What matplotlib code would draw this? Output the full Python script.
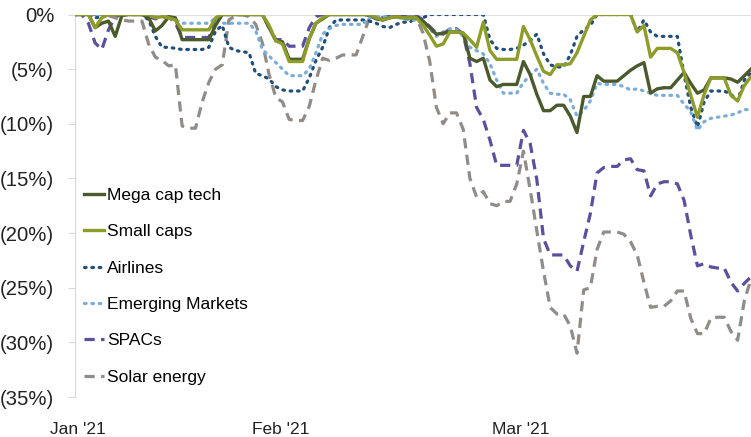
import matplotlib
matplotlib.use("Agg")
import matplotlib.pyplot as plt
import numpy as np

plt.rcParams['font.family'] = ['Liberation Sans', 'DejaVu Sans']

# drawdown from peak, % (one value per calendar day from Jan 1)
mega_cap_tech = [
    0, 0, 0, -1.2, -0.8, -0.6, -2.0, -0.1, 0, 0,
    0, -0.3, -1.5, -1.0, -0.2, -0.3, -2.3, -2.3, -2.3, -2.3,
    -2.3, -1.0, 0, 0, 0, 0, 0, 0, 0, -1.2,
    -2.4, -2.5, -4.1, -4.1, -4.1, -2.2, -0.8, -0.4, 0, 0,
    0, 0, 0, 0, 0, -0.4, -0.5, -0.3, -0.2, -0.3,
    -0.3, -0.3, -0.6, -1.2, -1.8, -1.7, -1.6, -1.6, -1.7, -4.0,
    -4.3, -4.0, -6.0, -6.6, -6.4, -6.4, -6.4, -4.3, -5.5, -7.3,
    -8.8, -8.8, -8.3, -8.3, -9.3, -10.8, -7.5, -7.5, -5.6, -6.1,
    -6.1, -6.1, -5.6, -5.1, -4.7, -4.4, -7.2, -6.8, -6.7, -6.7,
    -6.0, -5.3, -6.3, -7.2, -6.9, -5.8, -5.8, -5.8, -5.9, -6.2,
    -5.6, -5.0,
]
small_caps = [
    0, 0, 0, -1.2, -0.3, 0, 0, 0, 0, 0,
    0, 0, -0.3, -0.2, -0.3, -0.5, -1.4, -1.4, -1.4, -1.4,
    -1.4, -0.3, 0, 0, 0, 0, 0, 0, 0, -1.0,
    -2.4, -2.7, -4.3, -4.3, -4.3, -2.2, -0.8, -0.3, 0, 0,
    0, 0, 0, 0, 0, -0.3, -0.5, -0.3, -0.2, -0.3,
    -0.3, -0.3, -1.0, -1.9, -2.9, -2.7, -1.6, -1.6, -1.7, -2.3,
    -3.0, -0.7, -3.3, -4.1, -4.1, -4.1, -4.1, -1.1, -2.3, -3.8,
    -5.2, -5.5, -4.6, -4.6, -4.5, -3.5, -2.0, -0.5, 0, 0,
    0, 0, 0, 0, -1.6, -1.0, -3.9, -3.1, -3.1, -3.1,
    -3.5, -5.3, -7.4, -9.4, -7.3, -5.8, -5.8, -5.8, -7.4, -7.9,
    -6.5, -5.7,
]
airlines = [
    0, 0, 0, -0.3, -0.2, 0, 0, 0, 0, 0,
    0, -0.5, -2.0, -3.0, -3.0, -3.1, -3.2, -3.2, -3.2, -3.2,
    -3.0, -1.5, -1.0, -3.0, -3.3, -3.4, -3.5, -5.4, -5.6, -5.9,
    -6.6, -6.9, -7.0, -7.0, -7.0, -5.8, -4.2, -3.0, -1.2, -0.5,
    -0.5, -0.5, -0.5, -0.5, -0.6, -0.8, -1.1, -1.2, -0.9, -0.7,
    -0.7, -0.3, -0.3, 0, 0, 0, 0, 0, 0, 0,
    0, 0, -2.3, -3.1, -3.2, -3.2, -3.1, -2.8, -2.4, -1.8,
    -3.6, -4.6, -4.8, -4.8, -3.7, -2.0, -1.4, -1.0, 0, 0,
    0, 0, 0, 0, -1.6, -0.5, -1.6, -2.0, -2.0, -2.0,
    -2.0, -5.5, -8.5, -10.3, -8.0, -7.0, -7.0, -7.0, -7.3, -7.9,
    -6.0, -5.3,
]
emerging_markets = [
    0, 0, 0, 0, 0, 0, 0, 0, 0, 0,
    0, -0.2, -0.2, -0.2, -0.2, -0.5, -0.8, -0.8, -0.8, -0.8,
    -0.8, -0.3, -0.8, -0.8, -0.8, -0.8, -0.8, -1.5, -3.2, -3.8,
    -4.4, -5.0, -5.6, -5.6, -5.6, -5.0, -3.5, -1.8, -1.3, -1.0,
    -0.9, -0.9, -0.9, -0.9, -0.3, -0.2, -0.2, -0.2, -0.2, -0.4,
    -0.5, -0.5, -0.7, -1.3, -2.0, -1.6, -1.3, -1.4, -2.0, -3.0,
    -3.3, -3.6, -4.5, -6.0, -7.2, -7.2, -7.2, -6.2, -5.6, -5.0,
    -6.3, -7.2, -7.3, -7.3, -7.8, -9.3, -8.8, -7.9, -6.3, -6.4,
    -6.4, -6.4, -6.6, -6.9, -6.8, -7.0, -7.2, -7.4, -7.4, -7.4,
    -7.4, -8.2, -8.9, -10.6, -9.8, -9.5, -9.4, -9.3, -9.2, -9.0,
    -8.7, -8.7,
]
spacs = [
    0, 0, -0.8, -2.6, -3.2, -1.4, -0.2, 0, 0, 0,
    0, -0.2, -0.4, -0.3, -0.2, -0.8, -2.1, -2.1, -2.1, -2.1,
    -2.1, -0.3, 0, 0, 0, 0, 0, 0, 0, -1.2,
    -2.3, -2.3, -2.9, -2.9, -2.9, -1.2, -0.2, 0, 0, 0,
    0, 0, 0, 0, -0.1, -0.4, -0.3, -0.1, -0.1, -0.1,
    -0.1, -0.1, -0.5, -1.1, -1.7, -1.8, -1.3, -1.3, -1.8, -4.5,
    -8.5, -9.6, -11.5, -13.8, -13.8, -13.8, -13.8, -10.6, -11.8, -15.1,
    -20.5, -22.0, -22.0, -22.0, -23.0, -23.5, -20.8, -18.2, -14.5, -14.0,
    -13.9, -13.9, -13.3, -13.2, -14.2, -14.3, -16.6, -15.5, -15.3, -15.3,
    -15.5, -17.0, -20.2, -23.0, -22.8, -23.1, -23.2, -23.2, -24.5, -25.3,
    -24.6, -24.0,
]
solar_energy = [
    0, 0, 0, 0, 0, -0.1, -0.3, -0.5, -0.6, -0.6,
    -0.6, -2.7, -3.9, -4.2, -4.7, -4.6, -10.2, -10.4, -10.4, -8.0,
    -6.2, -5.0, -4.6, -0.5, -0.1, 0, -0.2, -0.9, -2.6, -5.5,
    -7.6, -8.0, -9.6, -9.7, -9.7, -8.4, -6.0, -4.0, -4.2, -4.0,
    -3.7, -3.7, -3.7, -2.0, -0.3, -0.2, -0.5, -0.3, -0.1, 0,
    -0.1, -0.3, -1.7, -4.3, -8.5, -10.0, -9.0, -9.0, -10.5, -15.0,
    -16.7, -16.2, -17.3, -17.5, -17.1, -17.1, -15.5, -12.5, -16.0, -19.8,
    -23.5, -26.8, -27.4, -27.4, -28.5, -31.0, -25.2, -25.0, -21.5, -19.9,
    -19.9, -19.9, -20.1, -20.8, -22.0, -24.5, -26.8, -26.7, -26.7, -26.2,
    -25.3, -25.3, -27.8, -29.2, -29.2, -27.8, -27.7, -27.7, -29.0, -29.8,
    -26.2, -24.2,
]

month_labels = ["Jan '21", "Feb '21", "Mar '21"]
month_pos = [0.45, 30.7, 66.6]
y_ticks = [0, -5, -10, -15, -20, -25, -30, -35]
y_labels = ["0%", "(5%)", "(10%)", "(15%)", "(20%)", "(25%)", "(30%)", "(35%)"]

days = np.arange(len(mega_cap_tech))

fig = plt.figure(figsize=(7.51, 4.37), dpi=100)
ax = fig.add_axes([0.0999, 0.0915, 0.9001, 0.8753])

ax.axhline(0, color='#d9d9d9', lw=1.2, zorder=1)

dots = (0, (0.5, 1.8))
dashes = (0, (3.2, 2.0))
ax.plot(days, mega_cap_tech, color='#4b5a2c', lw=2.4, label='Mega cap tech', zorder=4)
ax.plot(days, small_caps, color='#8e9c2a', lw=2.4, label='Small caps', zorder=5)
ax.plot(days, airlines, color='#1f4f7a', lw=2.3, linestyle=dots,
        dash_capstyle='round', label='Airlines', zorder=3)
ax.plot(days, emerging_markets, color='#7aaed8', lw=2.3, linestyle=dots,
        dash_capstyle='round', label='Emerging Markets', zorder=3)
ax.plot(days, spacs, color='#5b4f9e', lw=2.3, linestyle=dashes,
        label='SPACs', zorder=2)
ax.plot(days, solar_energy, color='#928c88', lw=2.3, linestyle=dashes,
        label='Solar energy', zorder=2)

ax.set_xlim(0, 101)
ax.set_ylim(-35, 0)
ax.set_yticks(y_ticks)
ax.set_yticklabels(y_labels)
ax.set_xticks(month_pos)
ax.set_xticklabels(month_labels)

for side in ['top', 'right', 'bottom']:
    ax.spines[side].set_visible(False)
ax.spines['left'].set_color('#d9d9d9')
ax.tick_params(axis='y', length=5, color='#d9d9d9', pad=10, labelsize=14.6, labelcolor='#222222')
ax.tick_params(axis='x', length=0, pad=18, labelsize=12.5, labelcolor='#222222')

ax.legend(loc='upper left', bbox_to_anchor=(0.014, 0.547), frameon=False,
          fontsize=12.5, handlelength=1.1, handletextpad=0.2, labelspacing=1.22,
          borderpad=0, borderaxespad=0)

fig.savefig('out.png', dpi=100)
